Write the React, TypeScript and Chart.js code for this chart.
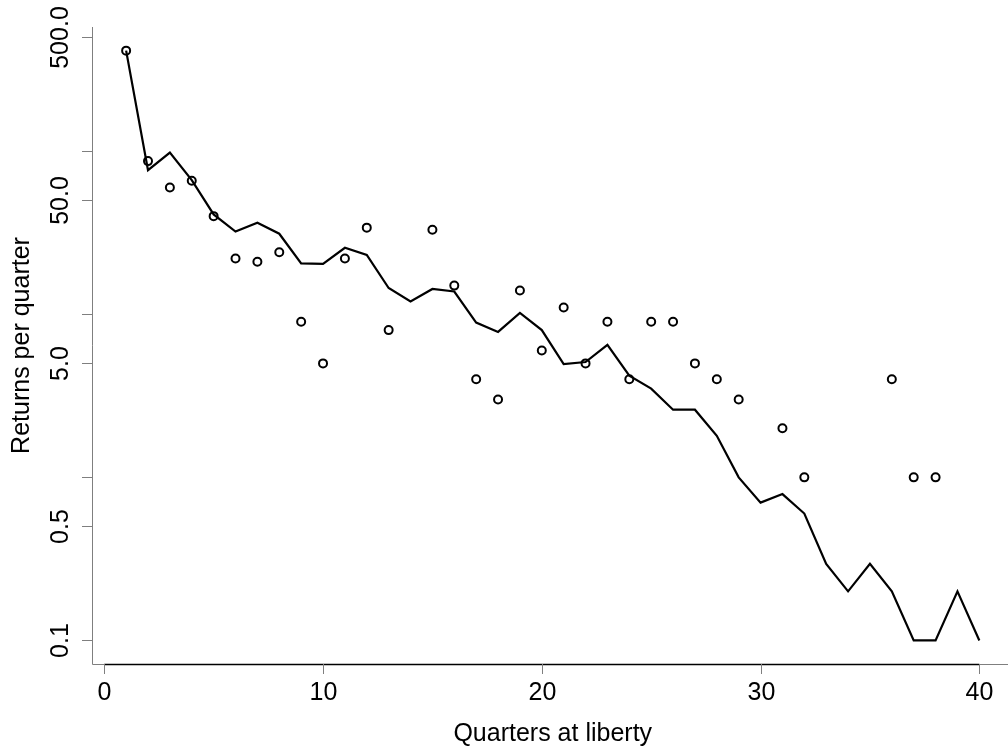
import React, { useEffect, useRef } from "react";
import { Chart, registerables } from "chart.js";

Chart.register(...registerables);

// Quarters at liberty (x)
const quarters: number[] = Array.from({ length: 40 }, (_, i) => i + 1);

// Observed returns per quarter (null = zero, not drawn on a log axis)
const observed: (number | null)[] = [
  414, 87, 60, 66, 40, 22, 21, 24, 9, 5,
  22, 34, 8, null, 33, 15, 4, 3, 14, 6,
  11, 5, 9, 4, 9, 9, 5, 4, 3, null,
  2, 1, null, null, null, 4, 1, 1, null, null,
];

// Fitted returns per quarter (line)
const fitted: number[] = [
  414, 76.6, 98.2, 66.5, 41, 32.2, 36.4, 31.2, 20.5, 20.4,
  25.6, 23.1, 14.5, 12.0, 14.3, 13.8, 8.9, 7.8, 10.2, 8.0,
  4.95, 5.1, 6.5, 4.2, 3.5, 2.6, 2.6, 1.8, 1.0, 0.7,
  0.79, 0.6, 0.295, 0.2, 0.295, 0.2, 0.1, 0.1, 0.2, 0.1,
];

const xTicks: number[] = [0, 10, 20, 30, 40];
const xTickLabels: string[] = ["0", "10", "20", "30", "40"];
const yTicks: number[] = [0.1, 0.5, 1, 5, 10, 50, 100, 500];
const yTickLabels: string[] = ["0.1", "0.5", "", "5.0", "", "50.0", "", "500.0"];

const xTitle = "Quarters at liberty";
const yTitle = "Returns per quarter";

const FONT = "25px 'Liberation Sans', Arial, Helvetica, sans-serif";
const GRAY = "#7f7f7f";

const rAxesPlugin = {
  id: "rAxes",
  afterDraw(chart: any) {
    const ctx = chart.ctx as CanvasRenderingContext2D;
    const area = chart.chartArea;
    const xs = chart.scales.x;
    const ys = chart.scales.y;
    ctx.save();
    // gray L frame
    ctx.strokeStyle = GRAY;
    ctx.lineWidth = 1;
    ctx.beginPath();
    ctx.moveTo(area.left + 0.5, area.top);
    ctx.lineTo(area.left + 0.5, area.bottom + 0.5);
    ctx.lineTo(area.right, area.bottom + 0.5);
    ctx.stroke();

    // black x axis line from first to last tick
    ctx.strokeStyle = "#000";
    ctx.lineWidth = 1.5;
    ctx.beginPath();
    ctx.moveTo(xs.getPixelForValue(xTicks[0]), area.bottom + 0.5);
    ctx.lineTo(xs.getPixelForValue(xTicks[xTicks.length - 1]), area.bottom + 0.5);
    ctx.stroke();

    // x ticks
    ctx.strokeStyle = GRAY;
    ctx.lineWidth = 1;
    ctx.font = FONT;
    ctx.fillStyle = "#000";
    ctx.textAlign = "center";
    ctx.textBaseline = "middle";
    xTicks.forEach((v, i) => {
      const px = Math.round(xs.getPixelForValue(v)) + 0.5;
      ctx.beginPath();
      ctx.moveTo(px, area.bottom);
      ctx.lineTo(px, area.bottom + 10);
      ctx.stroke();
      ctx.fillText(xTickLabels[i], px, area.bottom + 29);
    });

    // y ticks
    yTicks.forEach((v, i) => {
      const py = Math.round(ys.getPixelForValue(v)) + 0.5;
      ctx.beginPath();
      ctx.moveTo(area.left - 10, py);
      ctx.lineTo(area.left, py);
      ctx.stroke();
      if (yTickLabels[i]) {
        ctx.save();
        ctx.translate(area.left - 31, py);
        ctx.rotate(-Math.PI / 2);
        ctx.fillText(yTickLabels[i], 0, 0);
        ctx.restore();
      }
    });

    // titles
    ctx.fillText(xTitle, xs.getPixelForValue(20.5), area.bottom + 70);
    ctx.save();
    ctx.translate(22, (area.top + area.bottom) / 2);
    ctx.rotate(-Math.PI / 2);
    ctx.fillText(yTitle, 0, 0);
    ctx.restore();
    ctx.restore();
  },
};

export default function App() {
  const ref = useRef<HTMLCanvasElement | null>(null);
  useEffect(() => {
    if (!ref.current) return;
    const chart = new Chart(ref.current, {
      type: "line",
      data: {
        datasets: [
          {
            label: "Fitted",
            data: quarters.map((q, i) => ({ x: q, y: fitted[i] })),
            borderColor: "#000",
            borderWidth: 2.2,
            pointRadius: 0,
            fill: false,
            tension: 0,
          },
          {
            label: "Observed",
            data: quarters
              .map((q, i) => ({ x: q, y: observed[i] }))
              .filter((d) => d.y !== null) as any,
            showLine: false,
            pointRadius: 4,
            pointBorderWidth: 2,
            pointBorderColor: "#000",
            pointBackgroundColor: "rgba(0,0,0,0)",
          },
        ],
      },
      options: {
        responsive: false,
        animation: false,
        devicePixelRatio: 1,
        layout: { autoPadding: false, padding: { left: 92, top: 27, right: 0, bottom: 87 } },
        plugins: { legend: { display: false }, tooltip: { enabled: false } },
        scales: {
          x: { type: "linear", min: -0.56, max: 41.31, display: false },
          y: { type: "logarithmic", min: 0.0717, max: 578, display: false },
        },
      },
      plugins: [rAxesPlugin],
    });
    return () => chart.destroy();
  }, []);
  return (
    <div style={{ position: "absolute", left: 0, top: 0, width: 1008, height: 751, background: "#fff" }}>
      <canvas ref={ref} width={1008} height={751} style={{ display: "block" }} />
    </div>
  );
}
